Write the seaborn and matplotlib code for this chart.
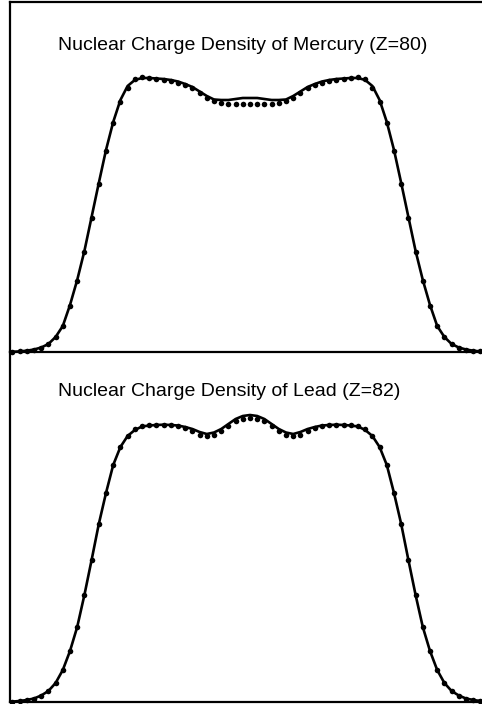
import numpy as np
import pandas as pd
import matplotlib
matplotlib.use("Agg")
import matplotlib.pyplot as plt
import seaborn as sns

# radius grid (fm), dot spacing 0.3 fm
r_grid = np.round(np.arange(-9.9, 9.91, 0.3), 1)

# Mercury (Z=80): fitted curve and measured points, radius 0 .. 9.9 fm
hg_half_line = [2.54, 2.54, 2.53, 2.52, 2.52, 2.525, 2.56, 2.605, 2.65, 2.68,
                2.705, 2.72, 2.73, 2.735, 2.74, 2.74, 2.72, 2.66, 2.52, 2.30,
                2.02, 1.69, 1.35, 1.01, 0.72, 0.47, 0.26, 0.15, 0.08, 0.045,
                0.025, 0.013, 0.006, 0.002]
hg_half_dots = [2.485, 2.485, 2.485, 2.485, 2.49, 2.51, 2.545, 2.59, 2.64, 2.67,
                2.695, 2.71, 2.725, 2.735, 2.745, 2.75, 2.73, 2.64, 2.50, 2.29,
                2.01, 1.68, 1.34, 1.00, 0.71, 0.46, 0.26, 0.15, 0.08, 0.045,
                0.025, 0.013, 0.006, 0.002]

# Lead (Z=82)
pb_half_line = [2.87, 2.86, 2.83, 2.78, 2.73, 2.695, 2.68, 2.70, 2.73, 2.75,
                2.765, 2.77, 2.773, 2.77, 2.765, 2.755, 2.72, 2.66, 2.55, 2.37,
                2.09, 1.78, 1.42, 1.07, 0.75, 0.51, 0.32, 0.19, 0.11, 0.065,
                0.035, 0.02, 0.01, 0.004]
pb_half_dots = [2.84, 2.835, 2.81, 2.76, 2.71, 2.67, 2.66, 2.675, 2.71, 2.74,
                2.76, 2.77, 2.775, 2.775, 2.775, 2.765, 2.73, 2.66, 2.55, 2.37,
                2.09, 1.78, 1.42, 1.07, 0.75, 0.51, 0.32, 0.19, 0.11, 0.065,
                0.035, 0.02, 0.01, 0.004]

titles = ["Nuclear Charge Density of Mercury (Z=80)",
          "Nuclear Charge Density of Lead (Z=82)"]


def full_profile(half):
    # radial density is symmetric about the nuclear centre
    return list(half[::-1]) + list(half[1:])


sns.set_style("white")
plt.rcParams['font.family'] = ['Liberation Sans', 'DejaVu Sans']

fig = plt.figure(figsize=(4.82, 7.04), dpi=100)
W, H = 482.0, 704.0
ax_top = fig.add_axes([10 / W, (704 - 352) / H, 480 / W, 350 / H])
ax_bot = fig.add_axes([10 / W, (704 - 702) / H, 480 / W, 350 / H])

panels = [(ax_top, hg_half_line, hg_half_dots, titles[0], 0.863, True),
          (ax_bot, pb_half_line, pb_half_dots, titles[1], 0.874, False)]

for ax, hl, hd, title, ty, show_top in panels:
    df_line = pd.DataFrame({"r": r_grid, "rho": full_profile(hl)})
    df_dots = pd.DataFrame({"r": r_grid, "rho": full_profile(hd)})
    sns.lineplot(data=df_line, x="r", y="rho", ax=ax, color="black",
                 linewidth=1.9, sort=True, clip_on=False)
    sns.scatterplot(data=df_dots, x="r", y="rho", ax=ax, color="black",
                    s=16, linewidth=0, clip_on=False, zorder=3)
    ax.set_xlim(-10, 10)
    ax.set_ylim(0, 3.5)
    ax.set_xticks([])
    ax.set_yticks([])
    ax.set_xlabel("")
    ax.set_ylabel("")
    ax.set_facecolor("none")
    for side in ["left", "bottom", "top"]:
        ax.spines[side].set_color("black")
        ax.spines[side].set_linewidth(1.6)
    ax.spines["right"].set_visible(False)
    ax.spines["top"].set_visible(show_top)
    ax.text(0.1, ty, title, transform=ax.transAxes, fontsize=14,
            ha="left", va="baseline", color="black")

fig.savefig("out.png", dpi=100, facecolor="white")
